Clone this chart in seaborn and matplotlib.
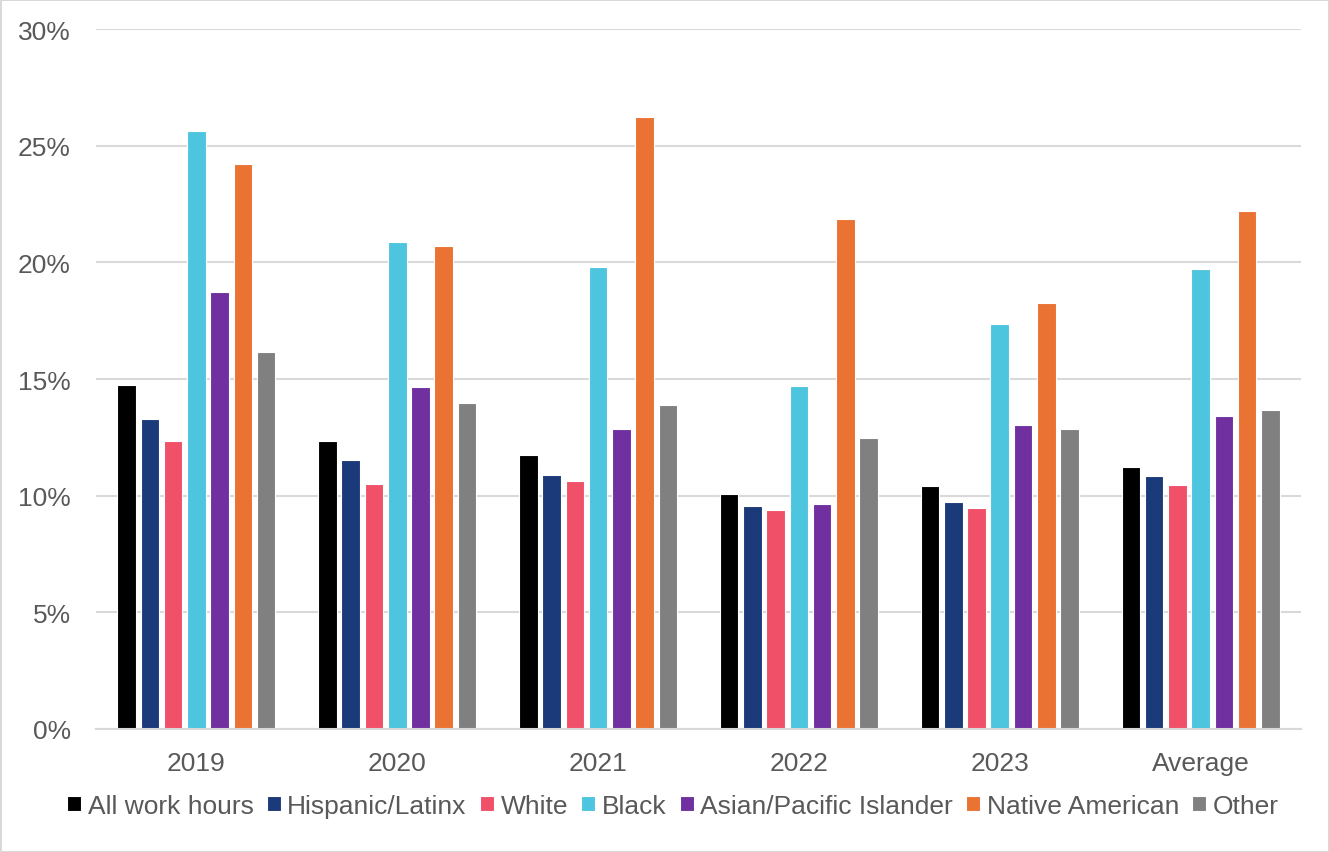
import pandas as pd
import matplotlib.pyplot as plt
from matplotlib.ticker import FuncFormatter
import seaborn as sns

# données (en %)
periodes = ["2019", "2020", "2021", "2022", "2023", "Average"]
groupes = [
    "All work hours",
    "Hispanic/Latinx",
    "White",
    "Black",
    "Asian/Pacific Islander",
    "Native American",
    "Other",
]
all_work_hours = [14.74, 12.33, 11.76, 10.07, 10.43, 11.21]
hispanic_latinx = [13.29, 11.51, 10.89, 9.54, 9.73, 10.83]
white = [12.33, 10.50, 10.64, 9.37, 9.47, 10.44]
black = [25.64, 20.89, 19.80, 14.71, 17.37, 19.70]
asian_pacific = [18.74, 14.67, 12.86, 9.63, 13.01, 13.41]
native_american = [24.21, 20.69, 26.23, 21.84, 18.27, 22.20]
other = [16.17, 13.97, 13.90, 12.47, 12.86, 13.67]
couleurs = ["#000000", "#1B3A7A", "#F05068", "#4EC5DF", "#7030A0", "#EA7233", "#808080"]

series = [all_work_hours, hispanic_latinx, white, black, asian_pacific, native_american, other]
df = pd.DataFrame(
    [(p, g, v) for g, vals in zip(groupes, series) for p, v in zip(periodes, vals)],
    columns=["periode", "groupe", "valeur"],
)

sns.set_theme(style="white")
plt.rcParams["font.family"] = ["Liberation Sans", "DejaVu Sans"]
cinza = "#595959"
grade = "#D9D9D9"

fig = plt.figure(figsize=(13.29, 8.53), dpi=100)
fig.patch.set_edgecolor(grade)
fig.patch.set_linewidth(2)
ax = fig.add_axes([96 / 1329, 1 - 730 / 853, (1301 - 96) / 1329, 700 / 853])

sns.barplot(
    data=df,
    x="periode",
    y="valeur",
    hue="groupe",
    order=periodes,
    hue_order=groupes,
    palette=couleurs,
    saturation=1,
    width=0.81,
    gap=0.2,
    edgecolor="white",
    linewidth=0.8,
    ax=ax,
)

ax.set_ylim(0, 30)
ax.set_xlim(-0.5, len(periodes) - 0.5)
ax.set_yticks(range(0, 31, 5))
ax.yaxis.set_major_formatter(FuncFormatter(lambda v, _: f"{v:.0f}%"))
ax.set_axisbelow(True)
ax.grid(axis="y", color=grade, linewidth=1.5)
ax.set_xlabel("")
ax.set_ylabel("")
for lado in ["top", "right", "left"]:
    ax.spines[lado].set_visible(False)
ax.spines["bottom"].set_color(grade)
ax.spines["bottom"].set_linewidth(1.5)
ax.tick_params(axis="y", length=0, pad=18, labelsize=19, labelcolor=cinza)
ax.tick_params(axis="x", length=0, pad=16, labelsize=19, labelcolor=cinza)

handles, labels = ax.get_legend_handles_labels()
ax.get_legend().remove()
fig.legend(
    handles,
    labels,
    loc="center",
    bbox_to_anchor=(673 / 1329, 1 - 807 / 853),
    ncol=len(groupes),
    frameon=False,
    fontsize=19,
    labelcolor=cinza,
    handlelength=0.53,
    handleheight=0.53,
    handletextpad=0.25,
    columnspacing=0.5,
    borderpad=0,
)

fig.savefig("out.png", dpi=100, edgecolor=fig.get_edgecolor())
